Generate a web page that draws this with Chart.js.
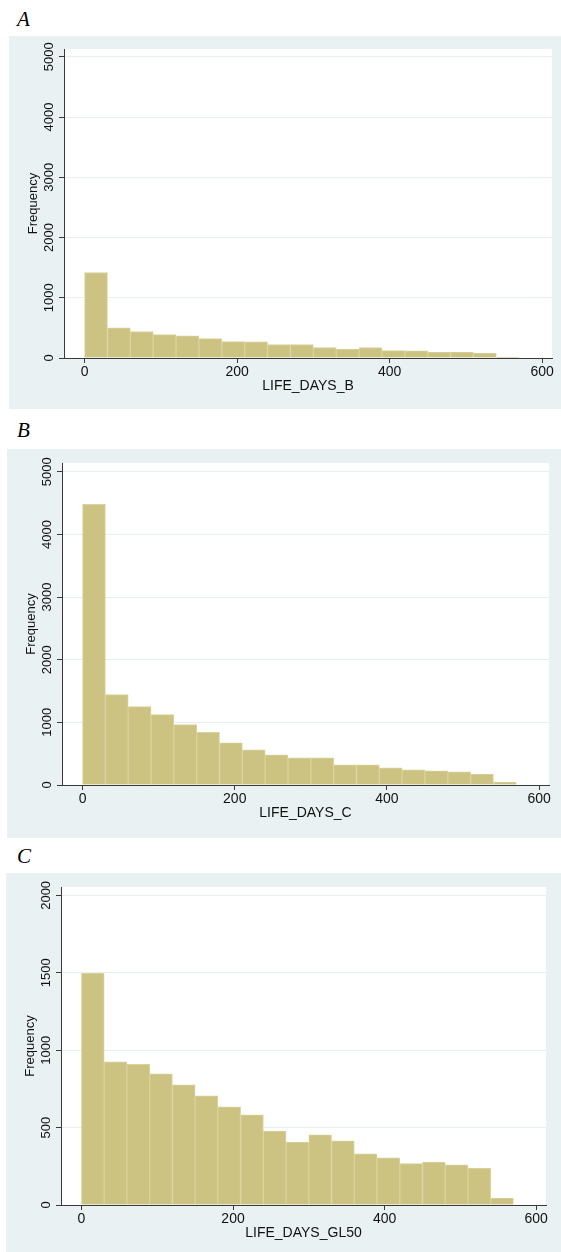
<!DOCTYPE html>
<html>
<head>
<meta charset="utf-8">
<script src="https://cdn.jsdelivr.net/npm/chart.js@4/dist/chart.umd.min.js"></script>
<style>
  html, body { margin: 0; padding: 0; background: #ffffff; }
  body { width: 561px; height: 1252px; position: relative; overflow: hidden; }
  .panel { position: absolute; background: #EAF1F3; }
  .panel canvas { display: block; }
  .letter { position: absolute; font-family: "Liberation Serif", "Times New Roman", serif; font-style: italic; font-size: 21px; line-height: 1; color: #000; }
</style>
</head>
<body>
<div class="letter" style="left:17px; top:9px;">A</div>
<div class="letter" style="left:17px; top:420px;">B</div>
<div class="letter" style="left:17px; top:846px;">C</div>

<div class="panel" style="left:9px; top:36px; width:552px; height:373px;"><canvas id="cA" width="552" height="373"></canvas></div>
<div class="panel" style="left:7px; top:449px; width:554px; height:389px;"><canvas id="cB" width="554" height="389"></canvas></div>
<div class="panel" style="left:6px; top:873px; width:555px; height:379px;"><canvas id="cC" width="555" height="379"></canvas></div>

<script>
// ---- data ----
const binCenters = [15, 45, 75, 105, 135, 165, 195, 225, 255, 285, 315, 345, 375, 405, 435, 465, 495, 525, 555];
const freqB    = [1420, 500, 440, 390, 367, 322, 272, 267, 222, 222, 172, 150, 172, 122, 120, 100, 100, 83, 10];
const freqC    = [4480, 1444, 1251, 1123, 963, 840, 674, 561, 481, 433, 433, 321, 321, 273, 241, 225, 209, 176, 48];
const freqGL50 = [1496, 925, 909, 847, 776, 705, 634, 582, 478, 407, 453, 414, 330, 304, 267, 278, 259, 239, 45];
const xTicks = [0, 200, 400, 600];
const yTicksBig = [0, 1000, 2000, 3000, 4000, 5000];
const yTicksSmall = [0, 500, 1000, 1500, 2000];
const xTitles = ["LIFE_DAYS_B", "LIFE_DAYS_C", "LIFE_DAYS_GL50"];
const yTitle = "Frequency";

const BAR_FILL = "#CCC382";
const BAR_EDGE = "#D9D39E";
const AXIS = "#3a3a3a";
const GRID = "#E6EEF0";
const FONT = '"Liberation Sans", Arial, sans-serif';

const plotBgPlugin = {
  id: 'plotBg',
  beforeDraw(chart) {
    const ca = chart.chartArea;
    const ctx = chart.ctx;
    ctx.save();
    ctx.fillStyle = "#ffffff";
    ctx.fillRect(ca.left, ca.top, ca.right - ca.left, ca.bottom - ca.top);
    ctx.restore();
  }
};

const textPlugin = {
  id: 'stataText',
  afterDraw(chart) {
    const ctx = chart.ctx;
    const xs = chart.scales.x, ys = chart.scales.y;
    const ca = chart.chartArea;
    const cfg = chart.options.plugins.stataText;
    ctx.save();
    ctx.fillStyle = "#111";
    ctx.font = "13px " + FONT;
    ctx.textAlign = "center";
    ctx.textBaseline = "middle";
    cfg.yTicks.forEach(v => {
      const py = ys.getPixelForValue(v);
      ctx.save();
      ctx.translate(ca.left - 15, py);
      ctx.rotate(-Math.PI / 2);
      ctx.fillText(String(v), 0, 0);
      ctx.restore();
    });
    ctx.save();
    ctx.translate(ca.left - 31, (ca.top + ca.bottom) / 2);
    ctx.rotate(-Math.PI / 2);
    ctx.fillText(cfg.yTitle, 0, 0);
    ctx.restore();
    ctx.font = "14px " + FONT;
    cfg.xTicks.forEach(v => {
      ctx.fillText(String(v), xs.getPixelForValue(v), ca.bottom + 14);
    });
    ctx.fillText(cfg.xTitle, (ca.left + ca.right) / 2, ca.bottom + 28.5);
    ctx.restore();
  }
};

function makeChart(id, values, yTicks, yMax, xTitle, pad, yW, xH) {
  return new Chart(document.getElementById(id), {
    type: 'bar',
    data: {
      datasets: [{
        data: binCenters.map((c, i) => ({ x: c, y: values[i] })),
        backgroundColor: BAR_FILL,
        borderColor: BAR_EDGE,
        borderWidth: 1,
        barPercentage: 1,
        categoryPercentage: 1
      }]
    },
    options: {
      responsive: false,
      animation: false,
      devicePixelRatio: 1,
      layout: { padding: { top: pad.top, right: pad.right, left: 0, bottom: 0 } },
      plugins: {
        legend: { display: false },
        tooltip: { enabled: false },
        stataText: { yTicks: yTicks, xTicks: xTicks, xTitle: xTitle, yTitle: yTitle }
      },
      scales: {
        x: {
          type: 'linear',
          offset: false,
          min: -27,
          max: 613,
          afterBuildTicks: s => { s.ticks = xTicks.map(v => ({ value: v })); },
          afterFit: s => { s.height = xH; },
          ticks: { display: false },
          grid: { offset: false, drawOnChartArea: false, drawTicks: true, tickLength: 5, tickColor: AXIS, tickWidth: 1 },
          border: { display: true, color: AXIS, width: 1, z: 1 }
        },
        y: {
          type: 'linear',
          min: 0,
          max: yMax,
          afterBuildTicks: s => { s.ticks = yTicks.map(v => ({ value: v })); },
          afterFit: s => { s.width = yW; },
          ticks: { display: false },
          grid: { color: GRID, lineWidth: 1, drawTicks: true, tickLength: 5, tickColor: AXIS },
          border: { display: true, color: AXIS, width: 1 }
        }
      }
    },
    plugins: [plotBgPlugin, textPlugin]
  });
}

makeChart('cA', freqB, yTicksBig, 5130, xTitles[0], { top: 13, right: 9 }, 55, 51);
makeChart('cB', freqC, yTicksBig, 5140, xTitles[1], { top: 14, right: 12 }, 55, 53);
makeChart('cC', freqGL50, yTicksSmall, 2054, xTitles[2], { top: 14, right: 15 }, 55, 47);
</script>
</body>
</html>
